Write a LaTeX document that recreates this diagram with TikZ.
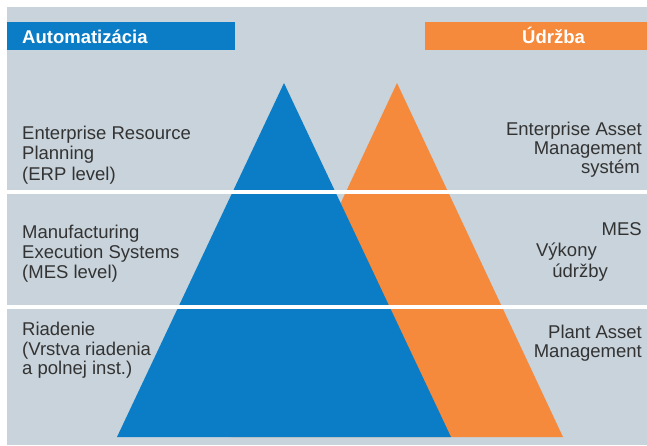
\documentclass[tikz,border=0pt]{standalone}
\usepackage{fontspec}
\setmainfont{Liberation Sans}
\definecolor{bgc}{HTML}{C8D3DB}
\definecolor{blu}{HTML}{0A7DC6}
\definecolor{org}{HTML}{F58A3C}
\definecolor{txt}{HTML}{333333}
\begin{document}
\begin{tikzpicture}[x=1pt,y=-1pt,
  lbl/.style={inner sep=0pt,text=txt,font=\fontsize{18.5}{20}\selectfont},
  lft/.style={lbl,anchor=base west},
  rgt/.style={lbl,anchor=base east},
  hdr/.style={inner sep=0pt,text=white,font=\fontsize{18.5}{20}\selectfont\bfseries,anchor=base west}]
\useasboundingbox (0,0) rectangle (647,445);
\fill[white] (0,0) rectangle (647,445);
\fill[bgc] (7,7) rectangle (647,445);
% header bars
\fill[blu] (7,22) rectangle (235,50);
\fill[org] (425,22) rectangle (647,50);
\node[hdr] (ha) at (22,43) {Automatizácia};
\node[hdr] (hu) at (522,43) {Údržba};
% triangles
\fill[org] (397,83) -- (563,437) -- (231,437) -- cycle;
\fill[blu] (284,83) -- (451,437) -- (117,437) -- cycle;
% separators
\fill[white] (7,190) rectangle (647,194);
\fill[white] (7,305) rectangle (647,309);
% left texts
\node[lft] (l1) at (22,139) {Enterprise Resource};
\node[lft] (l2) at (22,159.5) {Planning};
\node[lft] (l3) at (22,180) {(ERP level)};
\node[lft] (m1) at (22,238) {Manufacturing};
\node[lft] (m2) at (22,258) {Execution Systems};
\node[lft] (m3) at (22,278) {(MES level)};
\node[lft] (r1) at (22,335) {Riadenie};
\node[lft] (r2) at (22,355) {(Vrstva riadenia};
\node[lft] (r3) at (22,374) {a polnej inst.)};
% right texts
\node[rgt] (e1) at (642,135) {Enterprise Asset};
\node[rgt] (e2) at (642,154) {Management};
\node[rgt] (e3) at (640,173) {systém};
\node[rgt] (s1) at (642,235) {MES};
\node[rgt] (s2) at (597,256) {Výkony};
\node[rgt] (s3) at (608,277) {údržby};
\node[rgt] (p1) at (642,338) {Plant Asset};
\node[rgt] (p2) at (642,357) {Management};
\end{tikzpicture}
\end{document}
